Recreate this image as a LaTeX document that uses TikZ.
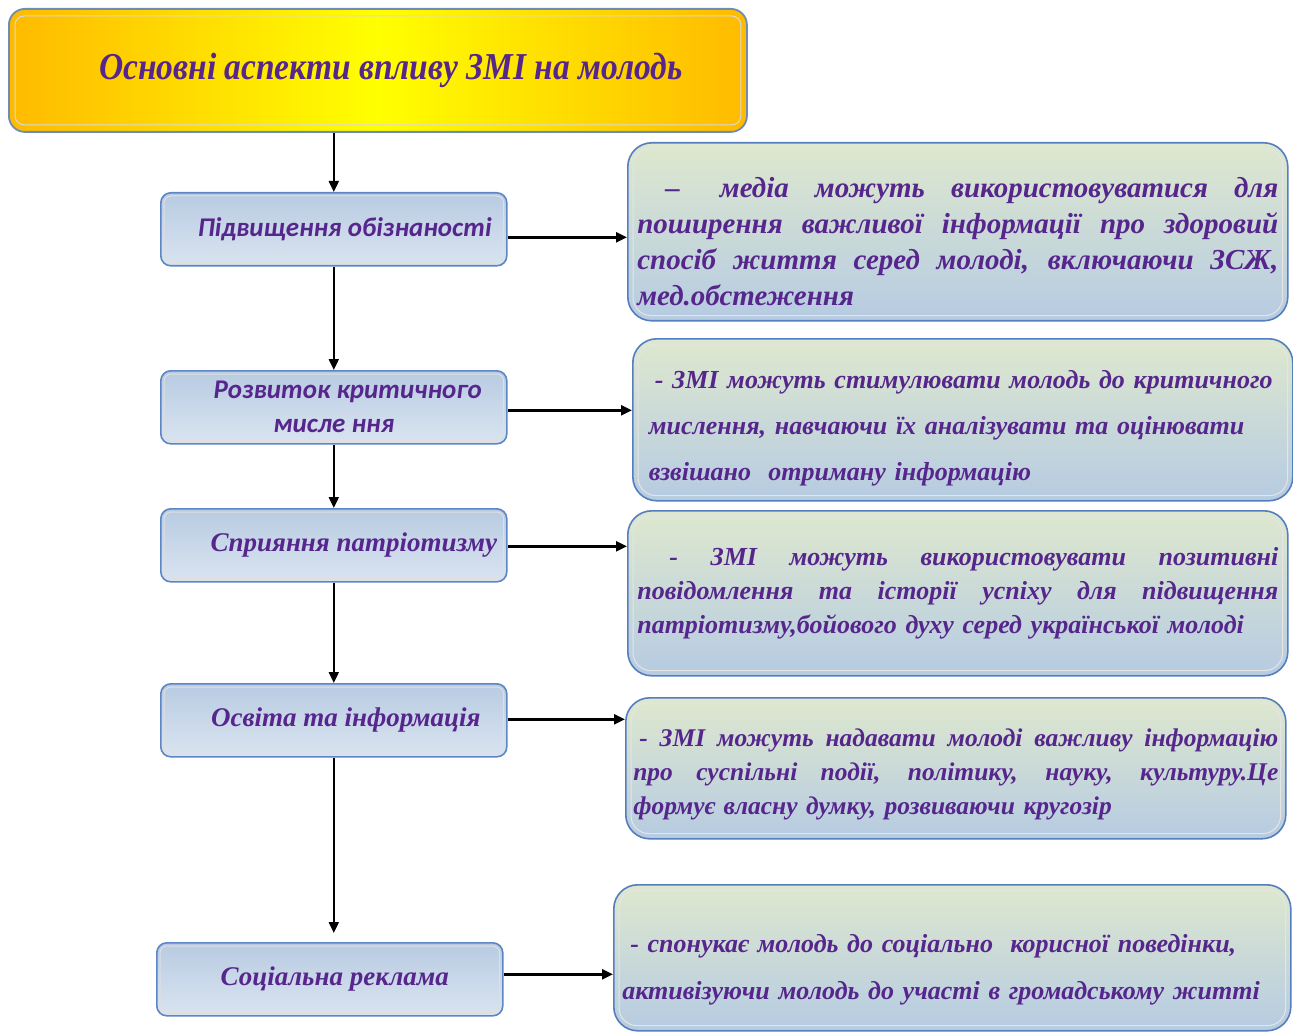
\documentclass[tikz,border=0pt]{standalone}
\usepackage{fontspec}
\setmainfont{Liberation Serif}
\newfontfamily\carl{Carlito}
\newfontfamily\condser[FakeStretch=0.88]{Liberation Serif}
\usetikzlibrary{arrows.meta}
\definecolor{txt}{RGB}{86,38,140}
\definecolor{lborder}{RGB}{92,134,196}
\definecolor{ltop}{RGB}{184,203,226}
\definecolor{lbot}{RGB}{218,228,240}
\definecolor{rborder}{RGB}{84,126,190}
\definecolor{rtop}{RGB}{222,232,206}
\definecolor{rbot}{RGB}{182,203,226}
\definecolor{tborder}{RGB}{110,140,180}
\definecolor{torange}{RGB}{255,186,0}
\definecolor{tyellow}{RGB}{255,255,0}
\newcommand\jl[2]{\leavevmode\hbox to #1{\spaceskip=\fontdimen2\font plus 1fill\relax\xspaceskip=\spaceskip #2}}
\tikzset{
  x=1pt, y=-1pt,
  lbox/.style={draw=lborder, line width=1.6pt, rounded corners=10pt,
    top color=ltop, bottom color=lbot, anchor=north west, inner sep=0pt,
    text=txt, minimum width=346pt, minimum height=73pt},
  rbox/.style={draw=rborder, line width=1.6pt, rounded corners=24pt,
    top color=rtop, bottom color=rbot, anchor=north west, inner sep=0pt,
    text=txt, align=left},
  sfl/.style={font=\carl\bfseries\itshape\fontsize{27}{34}\selectfont},
  sel/.style={font=\bfseries\itshape\fontsize{27}{34}\selectfont},
  arr/.style={-{Triangle[length=11pt,width=10pt]}, line width=2pt, black},
  harr/.style={arr, line width=2.6pt},
  inner/.style={draw=white!75!gray, line width=1pt, rounded corners=#1},
}
\begin{document}
\begin{tikzpicture}
\useasboundingbox (0,0) rectangle (1293,1032);
% title
\node[draw=tborder, line width=1.8pt, rounded corners=16pt, anchor=north west,
  left color=torange, right color=torange, middle color=tyellow,
  minimum width=738pt, minimum height=123pt, inner sep=0pt, text=txt,
  font=\condser\bfseries\itshape\fontsize{38}{44}\selectfont] (t) at (8,8)
  {\hspace*{26pt}Основні аспекти впливу ЗМІ на молодь};
\draw[inner=9pt, draw=white!70!gray] ([shift={(7pt,-8pt)}]t.north west) rectangle ([shift={(-7pt,8pt)}]t.south east);
% left boxes
\node[lbox, sfl] (b1) at (160,192) {\hspace*{22pt}Підвищення обізнаності};
\node[lbox, sfl, align=center] (b2) at (160,370) {\hspace*{28pt}Розвиток критичного\\мисле ння};
\node[lbox, sel] (b3) at (160,508) {\hspace*{40pt}Сприяння патріотизму};
\node[lbox, sel] (b4) at (160,683) {\hspace*{24pt}Освіта та інформація};
\node[lbox, sel] (b5) at (156,942) {\hspace*{10pt}Соціальна реклама};
\foreach \b in {b1,b2,b3,b4,b5}
  \draw[inner=7pt] ([shift={(4pt,-4pt)}]\b.north west) rectangle ([shift={(-4pt,4pt)}]\b.south east);
% right boxes
\node[rbox, minimum width=660pt, minimum height=178pt, text width=641pt,
  font=\bfseries\itshape\fontsize{29}{36}\selectfont] (r1) at (627,142)
  {\jl{641pt}{\rule{0pt}{40pt}\hspace*{28pt}–\hspace{14pt} медіа можуть використовуватися для}\\
   \jl{641pt}{поширення важливої інформації про здоровий}\\
   \jl{641pt}{спосіб життя серед молоді, включаючи ЗСЖ,}\\
   мед.обстеження};
\node[rbox, minimum width=660pt, minimum height=162pt, text width=628pt,
  font=\bfseries\itshape\fontsize{26}{46}\selectfont] (r2) at (632,338)
  {\rule{0pt}{35pt}\hspace*{6pt}- ЗМІ можуть стимулювати молодь до критичного\\
   мислення, навчаючи їх аналізувати та оцінювати\\
   взвішано\ \ отриману інформацію};
\node[rbox, minimum width=660pt, minimum height=165pt, text width=641pt,
  font=\bfseries\itshape\fontsize{26}{34}\selectfont] (r3) at (627,510)
  {\jl{641pt}{\hspace*{32pt}- ЗМІ можуть використовувати позитивні}\\
   \jl{641pt}{повідомлення та історії успіху для підвищення}\\
   патріотизму,бойового духу серед української молоді};
\node[rbox, minimum width=660pt, minimum height=141pt, text width=645pt,
  font=\bfseries\itshape\fontsize{25.5}{34}\selectfont] (r4) at (625,697)
  {\jl{645pt}{\rule{0pt}{30pt}\hspace*{6pt}- ЗМІ можуть надавати молоді важливу інформацію}\\
   \jl{645pt}{про суспільні події, політику, науку, культуру.Це}\\
   формує власну думку, розвиваючи кругозір};
\node[rbox, minimum width=677pt, minimum height=146pt, text width=660pt,
  font=\bfseries\itshape\fontsize{26}{47}\selectfont] (r5) at (613,884)
  {\rule{0pt}{41pt}\hspace*{8pt}- спонукає молодь до соціально\ \ корисної поведінки,\\
   активізуючи молодь до участі в громадському житті};
\foreach \r in {r1,r2,r3,r4,r5}
  \draw[inner=18pt, draw=white!80!gray] ([shift={(6pt,-6pt)}]\r.north west) rectangle ([shift={(-6pt,6pt)}]\r.south east);
% vertical arrows
\draw[arr] (t.south -| b1.north) -- (b1.north);
\draw[arr] (b1.south) -- (b2.north);
\draw[arr] (b2.south) -- (b3.north);
\draw[arr] (b3.south) -- (b4.north);
\draw[arr, shorten >=9pt] (b4.south) -- (b4.south |- b5.north);
% horizontal arrows
\draw[harr] ([yshift=-8pt]b1.east) coordinate (s1) -- (s1 -| r1.west);
\draw[harr] ([yshift=-3pt]b2.east) coordinate (s2) -- (s2 -| r2.west);
\draw[harr] ([yshift=-1pt]b3.east) coordinate (s3) -- (s3 -| r3.west);
\draw[harr] ([yshift=1pt]b4.east) coordinate (s4) -- (s4 -| r4.west);
\draw[harr] ([yshift=5pt]b5.east) coordinate (s5) -- (s5 -| r5.west);
\end{tikzpicture}
\end{document}
